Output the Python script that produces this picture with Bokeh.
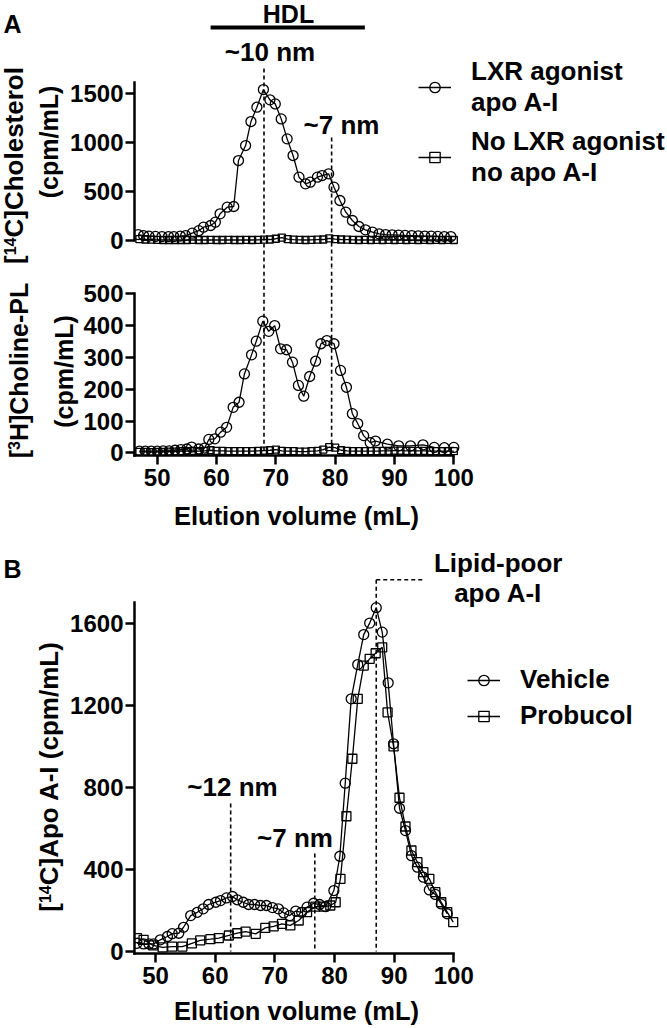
import math
from bokeh.plotting import figure
from bokeh.models import Range1d, FixedTicker, Label, Legend, LegendItem
from bokeh.layouts import column, row
from bokeh.embed import file_html
from bokeh.resources import INLINE

# ---------------------------- data ----------------------------
# Panel A (top): [14C]cholesterol (cpm/mL)
chol_lxr_x = [46.8, 47.7, 48.6, 49.7, 50.8, 51.9, 52.8, 53.9, 54.8, 55.9, 57.0, 57.8, 59.0, 59.8, 60.6,
              61.8, 62.9, 63.7, 64.9, 65.8, 66.8, 67.9, 69.0, 69.9, 70.9, 71.9, 72.9, 73.9, 75.0, 75.8,
              77.0, 77.8, 78.9, 79.8, 80.8, 81.8, 82.9, 84.0, 85.1, 86.3, 87.4, 88.5, 89.6, 90.7, 91.8,
              92.9, 94.0, 95.1, 96.2, 97.3, 98.4, 99.5]
chol_lxr_y = [60, 50, 45, 42, 40, 40, 40, 45, 50, 75, 100, 136, 153, 187, 272,
              340, 347, 816, 969, 1214, 1360, 1540, 1435, 1394, 1241, 1037, 867, 646, 578, 595,
              646, 663, 680, 544, 408, 289, 204, 143, 109, 85, 68, 60, 58, 55, 52,
              50, 48, 45, 45, 42, 40, 40]
chol_ctrl_x = [47, 48, 49, 50, 51, 52, 53, 54, 55, 56, 57, 58, 59, 60, 61, 62, 63, 64, 65, 66, 67, 68,
               69, 70, 71, 72, 73, 74, 75, 76, 77, 78, 79, 80, 81, 82, 83, 84, 85, 86, 87, 88, 89, 90,
               91, 92, 93, 94, 95, 96, 97, 98, 99, 100]
chol_ctrl_y = [15, 10, 8, 6, 5, 5, 5, 5, 5, 6, 5, 5, 6, 5, 5, 6, 5, 5, 6, 5, 6, 8,
               10, 18, 30, 14, 8, 6, 5, 6, 8, 10, 22, 14, 10, 8, 6, 5, 6, 5, 6, 5, 6, 5,
               6, 5, 6, 5, 6, 5, 6, 5, 6, 5]

# Panel A (bottom): [3H]choline-PL (cpm/mL)
pl_lxr_x = [47, 48, 49, 50, 51, 52, 53, 54, 55, 55.8, 57.0, 58.0, 58.7, 59.7, 60.7, 61.7,
            62.8, 63.8, 64.7, 65.9, 66.7, 67.8, 68.8, 69.8, 70.8, 71.8, 72.8, 73.8, 74.7, 75.7,
            76.7, 77.6, 78.6, 79.8, 80.9, 81.9, 82.9, 83.8, 84.8, 85.9, 86.8, 88.8, 90.7, 92.7,
            94.8, 96.7, 98.4, 100.0]
pl_lxr_y = [5, 5, 5, 5, 6, 6, 8, 10, 12, 18, 12, 15, 42, 44, 65, 80,
            143, 159, 248, 308, 351, 414, 382, 400, 327, 324, 285, 212, 178, 240,
            288, 343, 353, 343, 259, 206, 123, 92, 54, 32, 37, 27, 22, 22,
            25, 17, 16, 17]
pl_ctrl_x = [47, 48, 49, 50, 51, 52, 53, 54, 55, 56, 57, 58, 59, 60, 61, 62, 63, 64, 65, 66, 67, 68,
             69, 70, 71, 72, 73, 74, 75, 76, 77, 78, 79, 80, 81, 82, 83, 84, 85, 86, 87, 88, 89, 90,
             91, 92, 93, 94, 95, 96, 97, 98, 99, 100]
pl_ctrl_y = [3, 3, 2, 3, 3, 4, 4, 5, 5, 6, 5, 6, 8, 6, 6, 5, 5, 5, 5, 5, 6, 7,
             8, 10, 6, 5, 5, 4, 4, 5, 6, 10, 18, 16, 8, 6, 5, 5, 5, 5, 5, 6, 6, 7,
             7, 6, 6, 6, 6, 5, 5, 5, 5, 5]

# Panel B: [14C]apo A-I (cpm/mL)
apo_veh_x = [46.9, 48.0, 48.9, 49.7, 50.8, 52.0, 52.8, 53.9, 54.7, 55.9, 57.0, 58.0, 58.9, 60.1, 60.9,
             61.9, 62.9, 63.7, 64.7, 65.6, 66.6, 67.6, 68.6, 69.6, 70.6, 71.5, 72.5, 73.5, 74.5, 75.4,
             76.5, 77.5, 78.5, 79.9, 80.9, 81.8, 82.8, 83.9, 84.9, 85.9, 87.0, 88.0, 89.0, 89.9, 90.9,
             91.9, 92.9, 93.9, 94.9, 95.9, 96.9, 97.9, 98.9]
apo_veh_y = [40, 37, 37, 37, 57, 73, 87, 89, 118, 175, 191, 208, 229, 240, 248,
             261, 268, 252, 240, 229, 229, 224, 224, 214, 208, 188, 175, 197, 191, 216,
             235, 229, 219, 297, 464, 820, 1231, 1398, 1544, 1600, 1675, 1556, 1309, 1012, 698,
             589, 467, 411, 362, 300, 278, 232, 184]
apo_prob_x = [46.9, 48.0, 49.6, 51.2, 52.8, 54.5, 56.1, 57.5, 59.2, 60.6, 62.3, 63.7, 65.1, 66.8, 68.4,
              69.8, 71.2, 72.6, 74.0, 75.4, 76.8, 78.2, 79.3, 80.2, 81.0, 82.0, 83.0, 83.9, 84.9, 85.9,
              86.9, 88.0, 88.9, 89.9, 90.9, 91.9, 92.9, 93.9, 94.9, 95.9, 96.9, 97.9, 98.9, 99.9]
apo_prob_y = [65, 57, 30, 20, 24, 24, 40, 54, 60, 65, 78, 89, 97, 86, 115,
              122, 135, 127, 151, 192, 219, 219, 224, 240, 354, 659, 939, 1231, 1393, 1426,
              1453, 1482, 1165, 999, 749, 609, 492, 435, 387, 354, 289, 240, 192, 143]

x_ticks = [50, 60, 70, 80, 90, 100]
chol_ticks = [0, 500, 1000, 1500]
pl_ticks = [0, 100, 200, 300, 400, 500]
apo_ticks = [0, 400, 800, 1200, 1600]

# reference marks (data units)
hdl_span = [59.0, 85.0]
a_peak_x = [68.0, 79.4]          # ~10 nm, ~7 nm
a_peak_top = [1755, 1051]
b_peak_x = [62.6, 76.7, 87.0]    # ~12 nm, ~7 nm, lipid-poor
b_peak_top = [721, 477, 1811]
lipid_poor_end = 95.0

# ---------------------------- helpers ----------------------------
FONT = "Liberation Sans"
FRAME_LEFT = 134     # page x of the data frames' left edge
FW = 533             # frame width (to the right edge of the page)
ROT = math.pi / 2
K_BASE = 0.4         # baseline correction (em) for Label text placement


class Map:
    """page pixel -> data units for one plot"""
    def __init__(self, x_start, ppx, y0_page, upp):
        self.x_start, self.ppx, self.y0_page, self.upp = x_start, ppx, y0_page, upp

    def x(self, px):
        return self.x_start + (px - FRAME_LEFT) / self.ppx

    def y(self, py):
        return (self.y0_page - py) * self.upp


class StripMap:
    """page pixel -> strip units (strip ranges are in pixels, y downward)"""
    def __init__(self, left, top):
        self.left, self.top = left, top

    def x(self, px):
        return px - self.left

    def y(self, py):
        return py - self.top


def make_fig(m, top_page, frame_h, border_left, border_bottom, x_axis):
    p = figure(frame_width=FW, frame_height=frame_h,
               x_range=Range1d(m.x_start, m.x_start + FW / m.ppx),
               y_range=Range1d(m.y(top_page + frame_h), m.y(top_page)),
               output_backend="svg", toolbar_location=None,
               min_border_left=border_left, min_border_right=0, min_border_top=0,
               min_border_bottom=border_bottom,
               x_axis_location="below" if x_axis else None)
    p.outline_line_color = None
    p.grid.visible = False
    p.background_fill_color = "white"
    p.border_fill_color = "white"
    return p


def strip(w, h):
    p = figure(frame_width=w, frame_height=h, x_range=Range1d(0, w), y_range=Range1d(h, 0),
               output_backend="svg", toolbar_location=None, min_border=0,
               x_axis_location=None, y_axis_location=None)
    p.outline_line_color = None
    p.grid.visible = False
    p.background_fill_color = "white"
    p.border_fill_color = "white"
    return p


def style_axis(ax, ticks, bounds, standoff, tick_out):
    ax.ticker = FixedTicker(ticks=ticks)
    ax.bounds = bounds
    ax.axis_line_width = 2.5
    ax.axis_line_color = "black"
    ax.axis_line_cap = "square"
    ax.major_tick_line_width = 2.5
    ax.major_tick_line_color = "black"
    ax.major_tick_out = tick_out
    ax.major_tick_in = 0
    ax.minor_tick_out = 0
    ax.minor_tick_in = 0
    ax.major_label_text_font = FONT
    ax.major_label_text_font_size = "24px"
    ax.major_label_text_font_style = "bold"
    ax.major_label_text_color = "black"
    ax.major_label_standoff = standoff


def ptxt(p, m, px, py, s, size, align="center", rot=False):
    """place text whose baseline starts/centres at page pixel (px, py)"""
    if rot:
        px = px - K_BASE * size
    else:
        py = py - K_BASE * size
    p.add_layout(Label(x=m.x(px), y=m.y(py), text=s, text_font=FONT, text_font_size=f"{size}px",
                       text_font_style="bold", text_color="black", text_align=align,
                       text_baseline="alphabetic", angle=ROT if rot else 0.0))


def series(p, xs, ys, marker, size):
    r_line = p.line(xs, ys, line_color="black", line_width=1.3)
    r_pts = p.scatter(xs, ys, marker=marker, size=size, fill_alpha=0.0,
                      line_color="black", line_width=1.3)
    return [r_line, r_pts]


def dashed(p, xs0, ys0, xs1, ys1):
    p.segment(x0=xs0, y0=ys0, x1=xs1, y1=ys1, line_color="black",
              line_width=1.6, line_dash="4 3")


def make_legend(items, loc, spacing):
    return Legend(items=items, location=loc, glyph_width=33, glyph_height=26,
                  label_standoff=20, spacing=spacing, padding=0, margin=0,
                  border_line_color=None, background_fill_alpha=0.0,
                  label_text_font=FONT, label_text_font_size="26px",
                  label_text_font_style="bold", label_text_color="black",
                  label_text_line_height=1.0)


# ---------------------------- Panel A top ----------------------------
mA1 = Map(46.17, 5.932, 240.0, 10.204)
p1 = make_fig(mA1, 0, 268, 67, 0, False)
style_axis(p1.yaxis[0], chol_ticks, (0, 1612), 2, 9)

dashed(p1, a_peak_x, a_peak_top, a_peak_x, [-2000, -2000])
p1.segment(x0=[hdl_span[0]], y0=[mA1.y(27)], x1=[hdl_span[1]], y1=[mA1.y(27)],
           line_color="black", line_width=4)
c1 = series(p1, chol_lxr_x, chol_lxr_y, "circle", 10)
s1 = series(p1, chol_ctrl_x, chol_ctrl_y, "square", 7)

ptxt(p1, mA1, 288, 23, "HDL", 25)
ptxt(p1, mA1, 269.5, 62, "~10 nm", 26)
ptxt(p1, mA1, 341, 135, "~7 nm", 26)

leg1 = make_legend([LegendItem(label="LXR agonist\napo A-I", renderers=c1),
                    LegendItem(label="No LXR agonist\nno apo A-I", renderers=s1)],
                   (284, 80), 8)
p1.add_layout(leg1)

left1 = strip(67, 268)
sm1 = StripMap(0, 0)
ptxt(left1, sm1, 3, 33, "A", 25, align="left")
ptxt(left1, sm1, 24, 263.5, "[", 26, align="left", rot=True)
ptxt(left1, sm1, 16, 254.8, "14", 16, align="left", rot=True)
ptxt(left1, sm1, 24, 237.0, "C]Cholesterol", 26, align="left", rot=True)
ptxt(left1, sm1, 58, 141.5, "(cpm/mL)", 25, rot=True)

# ---------------------------- Panel A bottom ----------------------------
mA2 = Map(46.17, 5.932, 452.3, 3.1447)
p2 = make_fig(mA2, 268, 187, 54, 46, True)
style_axis(p2.yaxis[0], pl_ticks, (mA2.y(455), 500), 2, 9)
style_axis(p2.xaxis[0], x_ticks, (mA2.x_start, 100), 4, 9)

dashed(p2, a_peak_x, [2000, 2000], a_peak_x, [0, 0])
series(p2, pl_lxr_x, pl_lxr_y, "circle", 10)
series(p2, pl_ctrl_x, pl_ctrl_y, "square", 7)

left2 = strip(80, 233)
sm2 = StripMap(0, 268)
ptxt(left2, sm2, 28, 457.8, "[", 25, align="left", rot=True)
ptxt(left2, sm2, 20, 449.5, "3", 16, align="left", rot=True)
ptxt(left2, sm2, 28, 440.6, "H]Choline-PL", 25, align="left", rot=True)
ptxt(left2, sm2, 73, 371, "(cpm/mL)", 25, rot=True)

xt_a = strip(667, 39)
ptxt(xt_a, StripMap(0, 501), 296, 525.5, "Elution volume (mL)", 25.5)

# ---------------------------- Panel B ----------------------------
mB = Map(46.48, 5.966, 951.0, 4.872)
p3 = make_fig(mB, 540, 413, 67, 42, True)
style_axis(p3.yaxis[0], apo_ticks, (mB.y(953), 1700), 2, 9)
style_axis(p3.xaxis[0], x_ticks, (mB.x_start, 100), 4, 9)

dashed(p3, b_peak_x, b_peak_top, b_peak_x, [0, 0, 0])
dashed(p3, [b_peak_x[2]], [b_peak_top[2]], [lipid_poor_end], [b_peak_top[2]])
v3 = series(p3, apo_veh_x, apo_veh_y, "circle", 10)
pr3 = series(p3, apo_prob_x, apo_prob_y, "square", 9)

ptxt(p3, mB, 497.7, 572.7, "Lipid-poor", 26)
ptxt(p3, mB, 497.7, 602.7, "apo A-I", 26)
ptxt(p3, mB, 232, 797, "~12 nm", 26)
ptxt(p3, mB, 294.5, 848, "~7 nm", 26)

leg3 = make_legend([LegendItem(label="Vehicle", renderers=v3),
                    LegendItem(label="Probucol", renderers=pr3)],
                   (333, 222), 5)
p3.add_layout(leg3)

left3 = strip(67, 455)
sm3 = StripMap(0, 540)
ptxt(left3, sm3, 3, 578, "B", 25, align="left")
ptxt(left3, sm3, 59, 911.3, "[", 26, align="left", rot=True)
ptxt(left3, sm3, 51, 902.6, "14", 16, align="left", rot=True)
ptxt(left3, sm3, 59, 884.8, "C]Apo A-I (cpm/mL)", 26, align="left", rot=True)

xt_b = strip(667, 33)
ptxt(xt_b, StripMap(0, 995), 296, 1021, "Elution volume (mL)", 25.5)

layout = column(row(left1, p1), row(left2, p2), xt_a, row(left3, p3), xt_b)
open("out.html", "w").write(file_html(layout, INLINE))
